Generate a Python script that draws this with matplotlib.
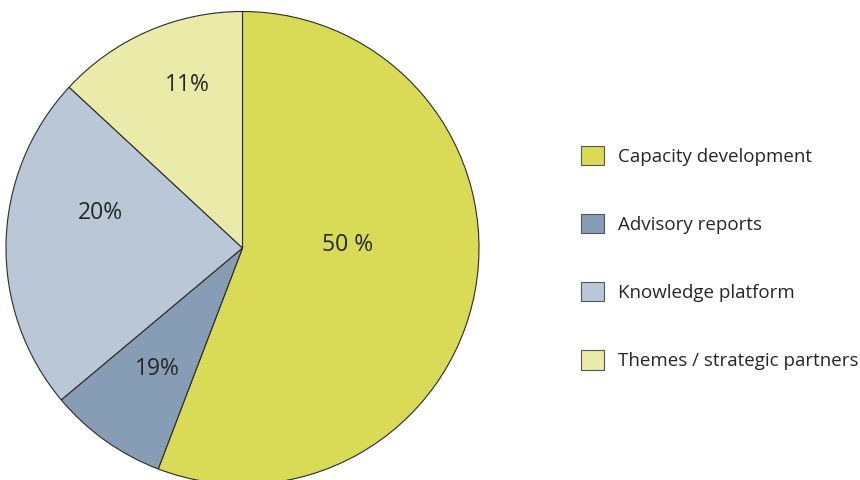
import matplotlib.pyplot as plt
from matplotlib.patches import Patch

categories = ['Capacity development', 'Advisory reports',
              'Knowledge platform', 'Themes / strategic partners']
shares = [55.8, 8.1, 23.0, 13.1]
pctLabels = ['50 %', '19%', '20%', '11%']
colors = ['#d9da55', '#879db6', '#b9c7d6', '#eaeba9']

plt.rcParams['font.family'] = ['Open Sans', 'DejaVu Sans']

fig = plt.figure(figsize=(8.6, 4.8), dpi=100)
ax = fig.add_axes([0, 0, 1, 1])

# Pie in pixel-like coordinates.
cx, cy, r = 242.5, 232, 236.5
wedges, _ = ax.pie(shares, colors=colors, startangle=90, counterclock=False,
                   center=(cx, cy), radius=r, frame=True,
                   wedgeprops=dict(edgecolor='#2b2b2b', linewidth=0.8))
ax.set_xlim(0, 860)
ax.set_ylim(0, 480)
ax.set_aspect('equal')
ax.axis('off')

# Percent labels (placement follows the reference).
labelPos = [(347.7, 480 - 245), (157.7, 480 - 369.3),
            (100, 480 - 213.3), (187.7, 480 - 85)]
for (x, y), txt in zip(labelPos, pctLabels):
  ax.text(x, y, txt, ha='center', va='center', fontsize=16.5, color='#262626')

# Legend.
handles = [Patch(facecolor=c, edgecolor='#555555', linewidth=0.8) for c in colors]
leg = ax.legend(handles, categories, loc='upper left',
                bbox_to_anchor=(581 / 860, 1 - 146 / 480),
                frameon=False, fontsize=13.5, handlelength=1.2,
                handleheight=1.2, handletextpad=0.8, labelspacing=2.57,
                borderpad=0, borderaxespad=0)
for t in leg.get_texts():
  t.set_color('#262626')

fig.savefig('out.png', dpi=100)
